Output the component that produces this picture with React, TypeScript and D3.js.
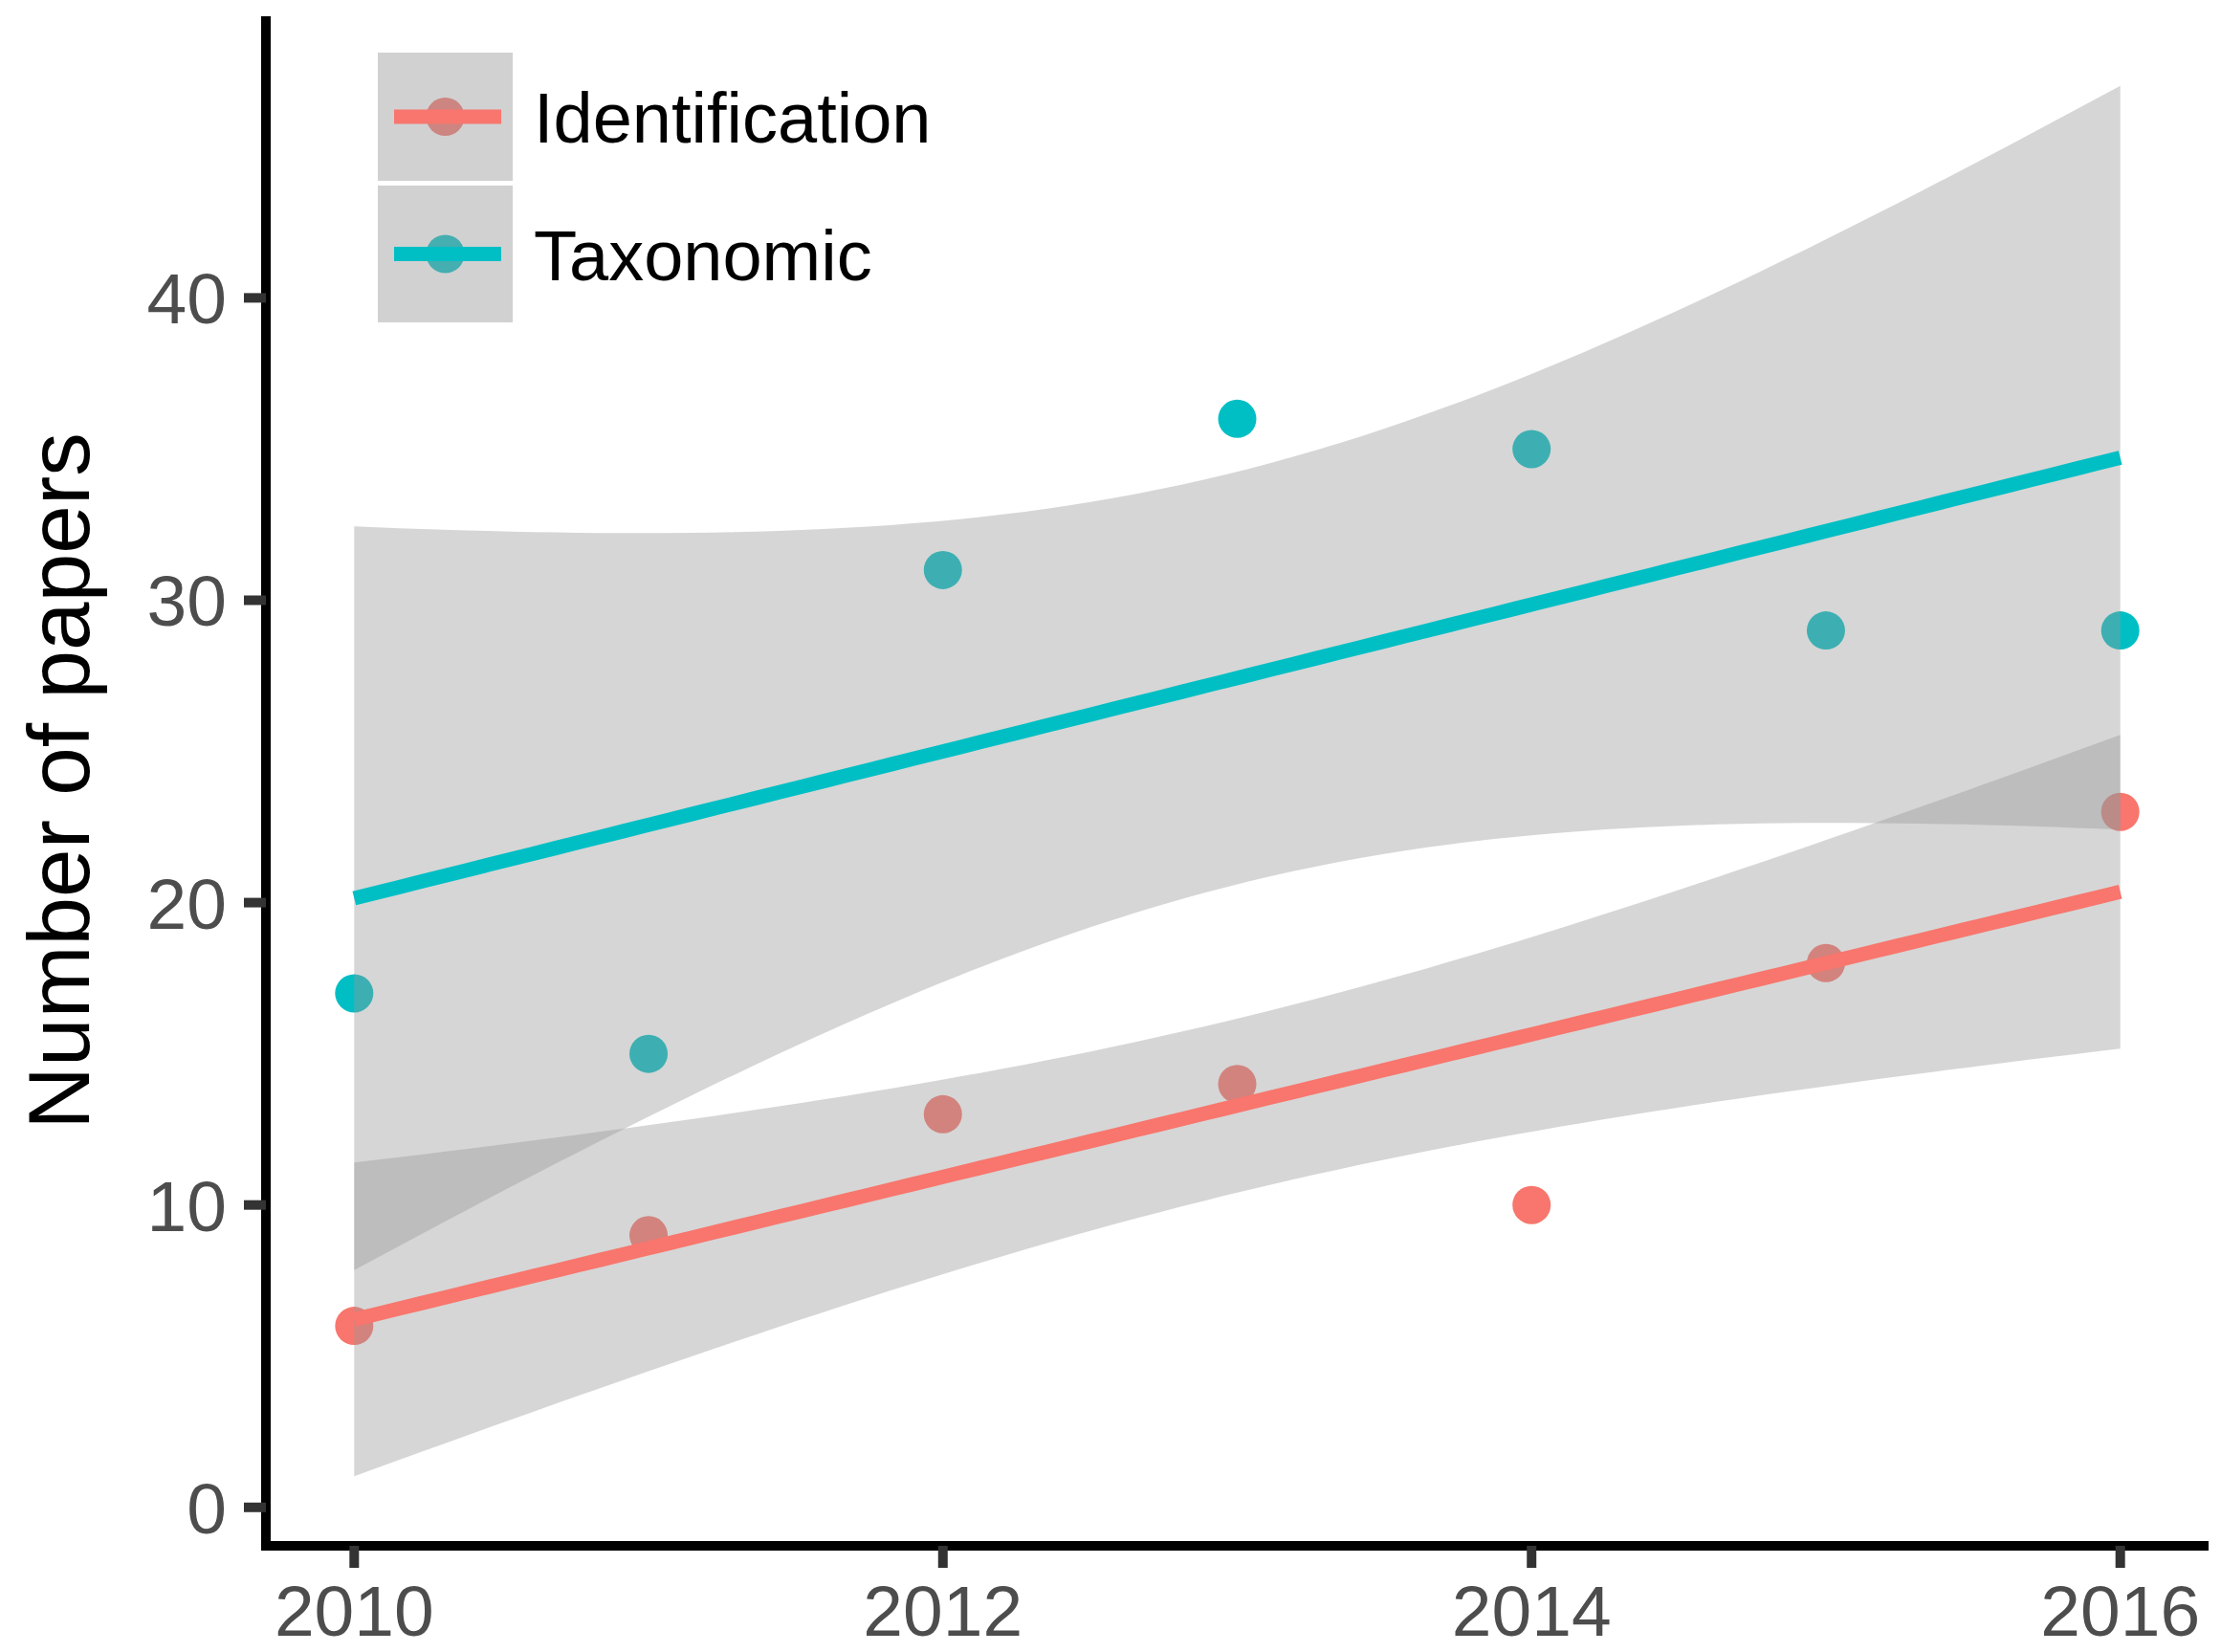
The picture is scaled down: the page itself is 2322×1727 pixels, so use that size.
import React from "react";
import * as d3 from "d3";

const years = [2010, 2011, 2012, 2013, 2014, 2015, 2016];
const identification = [6, 9, 13, 14, 10, 18, 23];
const taxonomic = [17, 15, 31, 36, 35, 29, 29];
const seriesNames = ["Identification", "Taxonomic"];
const seriesColors = ["#F8766D", "#00BFC4"];
const xTicks = [2010, 2012, 2014, 2016];
const yTicks = [0, 10, 20, 30, 40];
const T_CRIT_DF5 = 2.570582; // 95% two-sided t quantile, df = n - 2 = 5

type Fit = { x: number; fit: number; lo: number; hi: number }[];

function lmFit(xs: number[], ys: number[]): Fit {
  const n = xs.length;
  const mx = d3.mean(xs)!;
  const my = d3.mean(ys)!;
  const sxx = d3.sum(xs, (x) => (x - mx) ** 2);
  const sxy = d3.sum(xs, (x, i) => (x - mx) * (ys[i] - my));
  const b = sxy / sxx;
  const a = my - b * mx;
  const sse = d3.sum(xs, (x, i) => (ys[i] - (a + b * x)) ** 2);
  const s = Math.sqrt(sse / (n - 2));
  const x0 = d3.min(xs)!;
  const x1 = d3.max(xs)!;
  const out: Fit = [];
  const N = 80;
  for (let k = 0; k < N; k++) {
    const x = x0 + ((x1 - x0) * k) / (N - 1);
    const f = a + b * x;
    const se = s * Math.sqrt(1 / n + (x - mx) ** 2 / sxx);
    out.push({ x, fit: f, lo: f - T_CRIT_DF5 * se, hi: f + T_CRIT_DF5 * se });
  }
  return out;
}

export default function App() {
  const W = 2322;
  const H = 1727;
  const panel = { left: 278, right: 2309, top: 17, bottom: 1616 };

  const seriesValues = [identification, taxonomic];
  const fits = seriesValues.map((v) => lmFit(years, v));

  const xMin = d3.min(years)!;
  const xMax = d3.max(years)!;
  const xPad = (xMax - xMin) * 0.05;
  const x = d3
    .scaleLinear()
    .domain([xMin - xPad, xMax + xPad])
    .range([panel.left, panel.right]);

  const allY = [
    ...identification,
    ...taxonomic,
    ...fits.flatMap((f) => f.flatMap((d) => [d.lo, d.hi])),
  ];
  const yLo = d3.min(allY)!;
  const yHi = d3.max(allY)!;
  const yPad = (yHi - yLo) * 0.05;
  const y = d3
    .scaleLinear()
    .domain([yLo - yPad, yHi + yPad])
    .range([panel.bottom, panel.top]);

  const area = d3
    .area<{ x: number; lo: number; hi: number }>()
    .x((d) => x(d.x))
    .y0((d) => y(d.lo))
    .y1((d) => y(d.hi));
  const line = d3
    .line<{ x: number; fit: number }>()
    .x((d) => x(d.x))
    .y((d) => y(d.fit));

  const font = "'Liberation Sans', Arial, Helvetica, sans-serif";
  const pointR = 20;
  const lineW = 15;
  const tickLen = 23;

  const legendX = 395;
  const legendW = 141;
  const legendRows = [
    { top: 55, bottom: 189 },
    { top: 194, bottom: 337 },
  ];

  return (
    <svg
      width={W}
      height={H}
      style={{ position: "absolute", left: 0, top: 0, background: "#fff" }}
      fontFamily={font}
    >
      <rect x={0} y={0} width={W} height={H} fill="#fff" />
      {/* points */}
      {seriesValues.map((vals, si) =>
        vals.map((v, i) => (
          <circle
            key={`p-${si}-${i}`}
            cx={x(years[i])}
            cy={y(v)}
            r={pointR}
            fill={seriesColors[si]}
          />
        ))
      )}
      {/* smooth: ribbon + line per group */}
      {fits.map((f, si) => (
        <g key={`s-${si}`}>
          <path d={area(f)!} fill="#999999" fillOpacity={0.4} stroke="none" />
          <path
            d={line(f)!}
            fill="none"
            stroke={seriesColors[si]}
            strokeWidth={lineW}
          />
        </g>
      ))}
      {/* axes */}
      <path
        d={`M${panel.left},${panel.top} L${panel.left},${panel.bottom} L${panel.right},${panel.bottom}`}
        fill="none"
        stroke="#000"
        strokeWidth={10}
        strokeLinejoin="miter"
      />
      {yTicks.map((t) => (
        <g key={`yt-${t}`}>
          <line
            x1={panel.left - tickLen}
            x2={panel.left}
            y1={y(t)}
            y2={y(t)}
            stroke="#333"
            strokeWidth={10}
          />
          <text
            x={panel.left - tickLen - 18}
            y={y(t)}
            dy="0.36em"
            textAnchor="end"
            fontSize={75}
            fill="#4d4d4d"
          >
            {t}
          </text>
        </g>
      ))}
      {xTicks.map((t) => (
        <g key={`xt-${t}`}>
          <line
            x1={x(t)}
            x2={x(t)}
            y1={panel.bottom}
            y2={panel.bottom + tickLen}
            stroke="#333"
            strokeWidth={10}
          />
          <text
            x={x(t)}
            y={1710}
            textAnchor="middle"
            fontSize={75}
            fill="#4d4d4d"
          >
            {t}
          </text>
        </g>
      ))}
      <text
        transform={`translate(93, ${(panel.top + panel.bottom) / 2}) rotate(-90)`}
        textAnchor="middle"
        fontSize={91}
        fill="#000"
      >
        Number of papers
      </text>
      {/* legend */}
      {seriesNames.map((name, si) => {
        const r = legendRows[si];
        const cy = (r.top + r.bottom) / 2;
        const cx = legendX + legendW / 2;
        return (
          <g key={`lg-${si}`}>
            <rect x={legendX} y={r.top} width={legendW} height={r.bottom - r.top} fill="#fff" />
            <circle cx={cx} cy={cy} r={pointR} fill={seriesColors[si]} />
            <rect
              x={legendX}
              y={r.top}
              width={legendW}
              height={r.bottom - r.top}
              fill="#999999"
              fillOpacity={0.45}
            />
            <line
              x1={legendX + 17}
              x2={legendX + legendW - 12}
              y1={cy}
              y2={cy}
              stroke={seriesColors[si]}
              strokeWidth={lineW}
            />
            <text x={558} y={cy + 27} fontSize={74} fill="#000">
              {name}
            </text>
          </g>
        );
      })}
    </svg>
  );
}
